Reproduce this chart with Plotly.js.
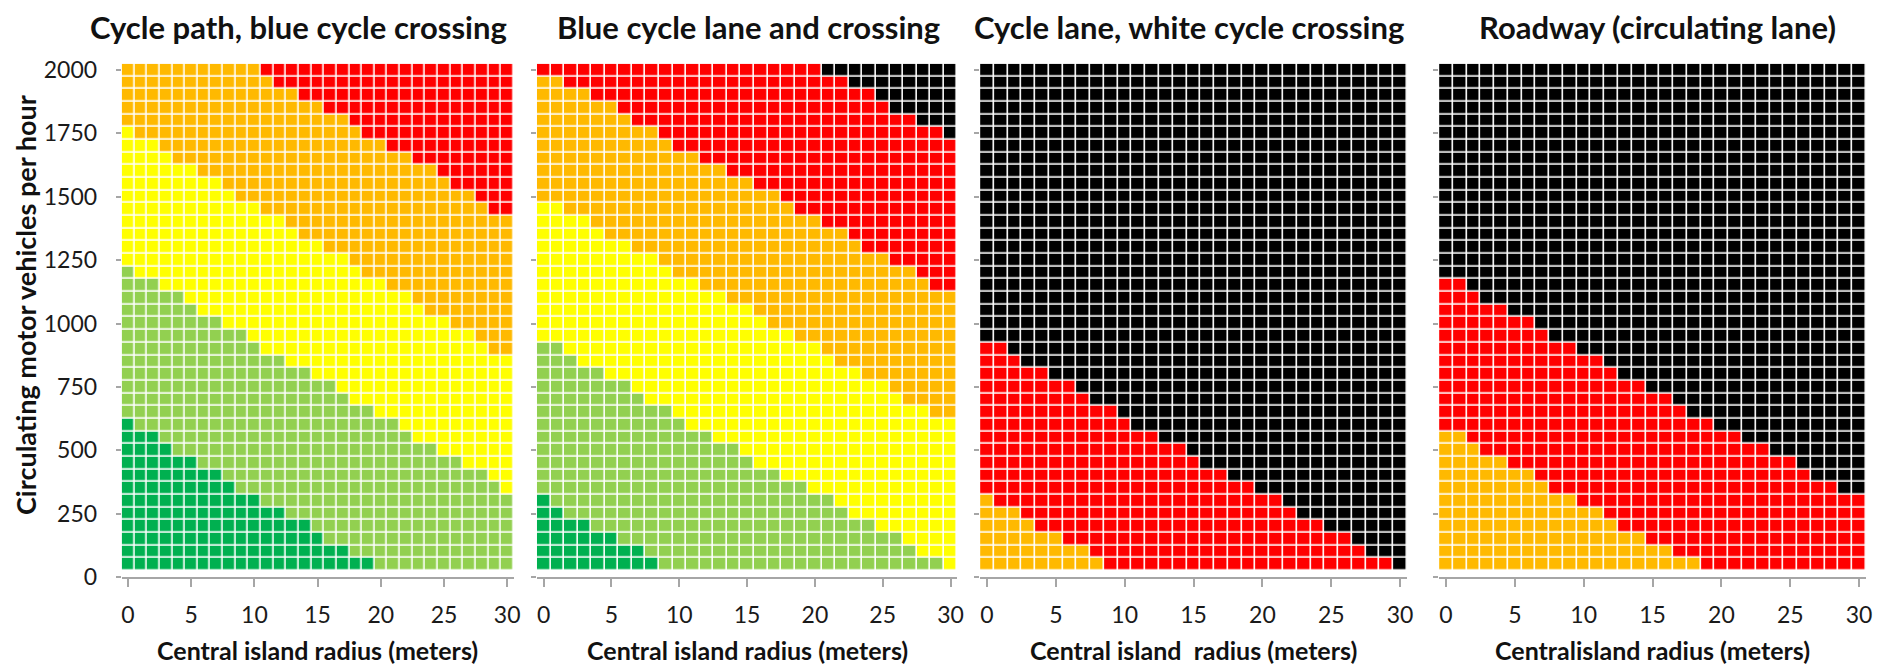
<!DOCTYPE html>
<html>
<head>
<meta charset="utf-8">
<script src="https://cdn.plot.ly/plotly-3.0.1.min.js"></script>
<style>
  html, body { margin: 0; padding: 0; background: #ffffff; }
  #chart { width: 1888px; height: 670px; }
</style>
</head>
<body>
<div id="chart"></div>
<script>
// ---------- data ----------
const radius = [0,1,2,3,4,5,6,7,8,9,10,11,12,13,14,15,16,17,18,19,20,21,22,23,24,25,26,27,28,29,30];
const flow = [50,100,150,200,250,300,350,400,450,500,550,600,650,700,750,800,850,900,950,1000,
              1050,1100,1150,1200,1250,1300,1350,1400,1450,1500,1550,1600,1650,1700,1750,1800,1850,1900,1950,2000];
const xTicks = [0,5,10,15,20,25,30];
const yTicks = [0,250,500,750,1000,1250,1500,1750,2000];

const panelTitles = ["Cycle path, blue cycle crossing", "Blue cycle lane and crossing",
                     "Cycle lane, white cycle crossing", "Roadway (circulating lane)"];
const xTitles = ["Central island radius (meters)", "Central island radius (meters)",
                 "Central island  radius (meters)", "Centralisland radius (meters)"];
const yTitle = "Circulating motor vehicles per hour";

// class colours: 0 dark green, 1 light green, 2 yellow, 3 orange, 4 red, 5 black
const classColors = ["#00b050", "#92d050", "#ffff00", "#ffb900", "#ff0000", "#000000"];

// highest flow (veh/h) of each class per radius column (0 = class absent)
// Panel 1: Cycle path, blue cycle crossing
const p1DarkGreenTop  = [600,550,550,500,450,450,400,400,350,300,300,250,250,200,200,150,100,100,50,50,0,0,0,0,0,0,0,0,0,0,0];
const p1LightGreenTop = [1200,1150,1150,1100,1100,1050,1000,1000,950,950,900,850,850,800,800,750,750,700,650,650,600,600,550,500,500,450,450,400,400,350,300];
const p1YellowTop     = [1750,1700,1700,1650,1600,1600,1550,1550,1500,1450,1450,1400,1400,1350,1300,1300,1250,1250,1200,1150,1150,1100,1100,1050,1000,1000,950,950,900,850,850];
const p1OrangeTop     = [2000,2000,2000,2000,2000,2000,2000,2000,2000,2000,2000,1950,1900,1900,1850,1850,1800,1800,1750,1700,1700,1650,1650,1600,1600,1550,1500,1500,1450,1400,1400];
const p1RedTop        = [2000,2000,2000,2000,2000,2000,2000,2000,2000,2000,2000,2000,2000,2000,2000,2000,2000,2000,2000,2000,2000,2000,2000,2000,2000,2000,2000,2000,2000,2000,2000];

// Panel 2: Blue cycle lane and crossing
const p2DarkGreenTop  = [300,250,200,200,150,150,100,100,50,0,0,0,0,0,0,0,0,0,0,0,0,0,0,0,0,0,0,0,0,0,0];
const p2LightGreenTop = [900,900,850,800,800,750,750,700,650,650,600,550,550,500,500,450,400,400,350,350,300,300,250,200,200,150,150,100,50,50,0];
const p2YellowTop     = [1450,1450,1400,1400,1350,1300,1300,1250,1250,1200,1150,1150,1100,1100,1050,1050,1000,950,950,900,900,850,800,800,750,750,700,650,650,600,600];
const p2OrangeTop     = [1950,1950,1900,1900,1850,1850,1800,1750,1750,1700,1650,1650,1600,1600,1550,1550,1500,1500,1450,1400,1400,1350,1350,1300,1250,1250,1200,1200,1150,1100,1100];
const p2RedTop        = [2000,2000,2000,2000,2000,2000,2000,2000,2000,2000,2000,2000,2000,2000,2000,2000,2000,2000,2000,2000,2000,1950,1950,1900,1900,1850,1800,1800,1750,1750,1700];

// Panel 3: Cycle lane, white cycle crossing
const p3OrangeTop     = [300,250,250,200,150,150,100,100,50,0,0,0,0,0,0,0,0,0,0,0,0,0,0,0,0,0,0,0,0,0,0];
const p3RedTop        = [900,900,850,800,800,750,750,700,650,650,600,550,550,500,500,450,400,400,350,350,300,300,250,200,200,150,150,100,50,50,0];

// Panel 4: Roadway (circulating lane)
const p4OrangeTop     = [550,550,500,450,450,400,400,350,300,300,250,250,200,150,150,100,100,50,50,0,0,0,0,0,0,0,0,0,0,0,0];
const p4RedTop        = [1150,1150,1100,1050,1050,1000,1000,950,900,900,850,850,800,750,750,700,700,650,600,600,550,550,500,500,450,450,400,350,350,300,300];

// ---------- build class matrices ----------
function buildZ(bounds) { // bounds: [classIndex, topArray] bottom to top; last class fills the rest
  const z = [];
  for (let r = 0; r < flow.length; r++) {
    const row = [];
    for (let c = 0; c < radius.length; c++) {
      let cls = bounds[bounds.length - 1][0];
      for (let b = 0; b < bounds.length - 1; b++) {
        if (flow[r] <= bounds[b][1][c]) { cls = bounds[b][0]; break; }
      }
      row.push(cls);
    }
    z.push(row);
  }
  return z;
}
const zPanels = [
  buildZ([[0, p1DarkGreenTop], [1, p1LightGreenTop], [2, p1YellowTop], [3, p1OrangeTop], [4, p1RedTop]]),
  buildZ([[0, p2DarkGreenTop], [1, p2LightGreenTop], [2, p2YellowTop], [3, p2OrangeTop], [4, p2RedTop], [5, null]]),
  buildZ([[3, p3OrangeTop], [4, p3RedTop], [5, null]]),
  buildZ([[3, p4OrangeTop], [4, p4RedTop], [5, null]])
];

const colorscale = [];
classColors.forEach((col, i) => {
  const lo = i === 0 ? 0 : (i - 0.5) / 5, hi = i === 5 ? 1 : (i + 0.5) / 5;
  colorscale.push([lo, col]); colorscale.push([hi, col]);
});

// ---------- layout geometry (pixels) ----------
const W = 1888, H = 670;
const plotX = [[121.7, 513.5], [536.9, 957.3], [980.1, 1407], [1439.1, 1866]];
const plotTop = 63.7, plotBottom = 577;
const titleX = [298, 748, 1189, 1657];
const FONT = "Lato, 'Open Sans', sans-serif";

const data = [];
const layout = {
  width: W, height: H,
  margin: {l: 0, r: 0, t: 0, b: 0, pad: 0},
  paper_bgcolor: "#ffffff", plot_bgcolor: "#ffffff",
  showlegend: false,
  annotations: []
};

for (let p = 0; p < 4; p++) {
  const ax = p === 0 ? "" : String(p + 1);
  data.push({
    type: "heatmap", x: radius, y: flow, z: zPanels[p],
    xaxis: "x" + ax, yaxis: "y" + ax,
    zmin: 0, zmax: 5, colorscale: colorscale, showscale: false,
    xgap: 1.6, ygap: 1.6, hoverinfo: "skip"
  });
  layout["xaxis" + ax] = {
    domain: [plotX[p][0] / W, plotX[p][1] / W],
    anchor: "y" + ax,
    range: [-0.5, 30.5], tickvals: xTicks, ticktext: xTicks.map(String),
    showgrid: false, zeroline: false,
    showline: true, linecolor: "#a6a6a6", linewidth: 2,
    ticks: "outside", ticklen: 8, tickwidth: 2, tickcolor: "#a6a6a6",
    tickfont: {family: FONT, size: 23, color: "#1a1a1a"},
    ticklabelstandoff: 8,
    fixedrange: true
  };
  layout["yaxis" + ax] = {
    domain: [(H - plotBottom) / H, (H - plotTop) / H],
    anchor: "x" + ax,
    range: [0, 2025], tickvals: yTicks, ticktext: yTicks.map(String),
    showgrid: false, zeroline: false, showline: false,
    ticks: "outside", ticklen: 5, tickwidth: 2, tickcolor: "#a6a6a6",
    showticklabels: p === 0,
    tickfont: {family: FONT, size: 23, color: "#1a1a1a"},
    ticklabelstandoff: 14,
    fixedrange: true
  };
  layout.annotations.push({
    text: "<b>" + panelTitles[p] + "</b>", xref: "paper", yref: "paper",
    x: titleX[p] / W, y: (H - 27) / H, xanchor: "center", yanchor: "middle",
    showarrow: false, font: {family: FONT, size: 31, color: "#111111"}
  });
  layout.annotations.push({
    text: "<b>" + xTitles[p] + "</b>", xref: "paper", yref: "paper",
    x: ((plotX[p][0] + plotX[p][1]) / 2) / W, y: (H - 650) / H,
    xanchor: "center", yanchor: "middle",
    showarrow: false, font: {family: FONT, size: 25, color: "#111111"}
  });
}
layout.annotations.push({
  text: "<b>" + yTitle + "</b>", xref: "paper", yref: "paper",
  x: 25 / W, y: (H - 305) / H, xanchor: "center", yanchor: "middle",
  textangle: -90, showarrow: false, font: {family: FONT, size: 27, color: "#111111"}
});

Plotly.newPlot("chart", data, layout, {staticPlot: true, displayModeBar: false});
</script>
</body>
</html>
